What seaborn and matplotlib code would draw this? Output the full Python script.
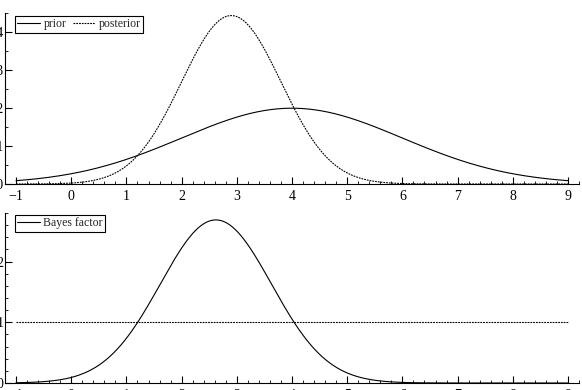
import numpy as np
import pandas as pd
import matplotlib
matplotlib.use("Agg")
import matplotlib.pyplot as plt
from matplotlib.ticker import MultipleLocator
import seaborn as sns

# Parameters (normal densities)
prior_mean = 4.0
prior_sd = 2.0
posterior_mean = 2.9
posterior_sd = 0.9
x_range = [-1.0, 9.0]
bf_reference = 1.0
x_ticks = [-1, 0, 1, 2, 3, 4, 5, 6, 7, 8, 9]

sns.set_style("ticks")
plt.rcParams['font.family'] = ['Liberation Serif', 'DejaVu Serif']
plt.rcParams.update({
    'font.size': 10,
    'xtick.direction': 'in', 'ytick.direction': 'in',
    'xtick.major.size': 5, 'ytick.major.size': 5,
    'xtick.minor.size': 2.5, 'ytick.minor.size': 2.5,
    'xtick.major.width': 0.8, 'ytick.major.width': 0.8,
    'xtick.minor.width': 0.6, 'ytick.minor.width': 0.6,
    'axes.linewidth': 0.8,
    'xtick.color': 'black', 'ytick.color': 'black',
    'axes.edgecolor': 'black',
})

def npdf(x, m, s):
    return np.exp(-0.5 * ((x - m) / s) ** 2) / (s * np.sqrt(2 * np.pi))

x = np.linspace(x_range[0], x_range[1], 600)
prior = npdf(x, prior_mean, prior_sd)
posterior = npdf(x, posterior_mean, posterior_sd)
bayes = posterior / prior

W, H = 582, 390
fig = plt.figure(figsize=(W / 100, H / 100), dpi=100)

def ax_rect(left, top, right, bottom):
    return [left / W, 1 - bottom / H, (right - left) / W, (bottom - top) / H]

ax1 = fig.add_axes(ax_rect(5, 13, 579, 184))
ax2 = fig.add_axes(ax_rect(5, 213, 579, 383))

sns.lineplot(x=x, y=prior, ax=ax1, color='black', lw=0.8, label='prior')
sns.lineplot(x=x, y=posterior, ax=ax1, color='black', lw=0.8,
             linestyle=(0, (1.6, 0.9)), label='posterior')
ax1.set_xlim(-1.2, 9.2)
ax1.set_ylim(0, 0.45)
ax1.yaxis.set_major_locator(MultipleLocator(0.1))
ax1.yaxis.set_minor_locator(MultipleLocator(0.05))

sns.lineplot(x=x, y=bayes, ax=ax2, color='black', lw=0.8, label='Bayes factor')
ax2.plot(x_range, [bf_reference, bf_reference], color='black', lw=0.8,
         linestyle=(0, (1.6, 0.9)))
ax2.set_xlim(-1.2, 9.2)
ax2.set_ylim(0, 2.8)
ax2.yaxis.set_major_locator(MultipleLocator(1))
ax2.yaxis.set_minor_locator(MultipleLocator(0.2))

for ax in (ax1, ax2):
    ax.set_xticks(x_ticks)
    ax.xaxis.set_minor_locator(MultipleLocator(0.2))
    sns.despine(ax=ax)
    ax.set_xlabel('')
    ax.set_ylabel('')
    ax.tick_params(axis='x', which='both', pad=4)
    ax.tick_params(axis='y', which='both', pad=1)

leg_kw = dict(loc='upper left', frameon=True, fancybox=False,
              handlelength=1.9, columnspacing=0.55, handletextpad=0.3,
              borderpad=0.2, borderaxespad=0.0, fontsize=8.5,
              bbox_to_anchor=(10 / 574, 1 - 3 / 171))
leg1 = ax1.legend(ncol=2, **leg_kw)
leg_kw['bbox_to_anchor'] = (10 / 574, 1 - 2 / 170)
leg2 = ax2.legend(**leg_kw)
for leg in (leg1, leg2):
    fr = leg.get_frame()
    fr.set_edgecolor('black')
    fr.set_linewidth(0.8)
    fr.set_alpha(1)

fig.savefig('out.png', dpi=100)
